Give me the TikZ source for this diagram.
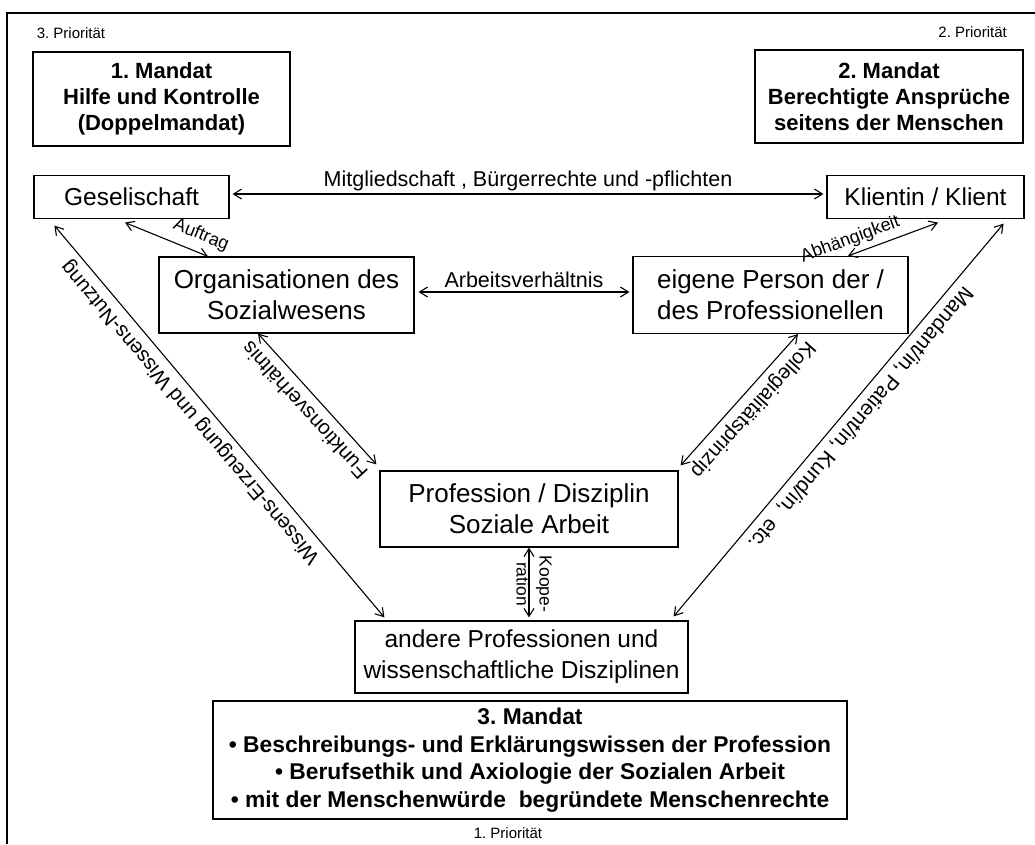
\documentclass[tikz,border=0pt]{standalone}
\usepackage{fontspec}
\setmainfont{Liberation Sans}
\usetikzlibrary{arrows.meta,calc}
\frenchspacing

\begin{document}
\begin{tikzpicture}[x=1pt, y=-1pt,
  box/.style={draw, line width=1.2pt, inner sep=0pt, align=center},
  bigtext/.style={font=\fontsize{26}{31}\selectfont},
  midtext/.style={font=\fontsize{24.5}{31}\selectfont},
  mandat/.style={draw, line width=1.3pt, inner sep=0pt, align=center, font=\bfseries\fontsize{22}{26}\selectfont},
  lbl/.style={font=\fontsize{21.5}{26}\selectfont, inner sep=1pt},
  slbl/.style={font=\fontsize{20.5}{24}\selectfont, inner sep=1pt, sloped, allow upside down},
  tlbl/.style={font=\fontsize{18}{22}\selectfont, inner sep=1pt, sloped},
  koop/.style={font=\fontsize{17.5}{23}\selectfont, inner sep=0pt, align=center},
  prio/.style={font=\fontsize{15}{18}\selectfont, inner sep=0pt},
  rel/.style={<->, >={Straight Barb[length=8pt,width=10pt]}, line width=1.1pt},
]
\useasboundingbox (0,0) rectangle (1035,844);
% frame
\draw[line width=2pt] (1035,13) -- (7,13) -- (7,844);

% priorities
\node[prio] (prioc) at (71,33) {3. Priorität};
\node[prio, anchor=east] (priob) at (1007,32) {2. Priorität};
\node[prio] (prioa) at (508,833) {1. Priorität};

% mandates
\node[mandat, minimum width=257pt, minimum height=94pt] (mandatone) at (161.5,99) {1. Mandat\\Hilfe und Kontrolle\\(Doppelmandat)};
\node[mandat, minimum width=268pt, minimum height=93pt] (mandattwo) at (889,96.5) {2. Mandat\\Berechtigte Ansprüche\\seitens der Menschen};
\node[mandat, minimum width=634pt, minimum height=118pt, font=\bfseries\fontsize{22.8}{27.7}\selectfont] (mandatthree) at (530,760)
  {3. Mandat\\• Beschreibungs- und Erklärungswissen der Profession\\• Berufsethik und Axiologie der Sozialen Arbeit\\• mit der Menschenwürde~ begründete Menschenrechte};

% actors
\node[box, midtext, minimum width=195pt, minimum height=43pt] (gesell) at (131.5,197) {Geselischaft};
\node[box, midtext, minimum width=197pt, minimum height=43pt] (klient) at (925.5,197) {Klientin / Klient};
\node[box, bigtext, minimum width=255pt, minimum height=76pt] (organ) at (286.5,295) {Organisationen des\\Sozialwesens};
\node[box, bigtext, minimum width=275pt, minimum height=77pt] (person) at (770.5,295) {eigene Person der /\\des Professionellen};
\node[box, bigtext, minimum width=298pt, minimum height=76pt] (profession) at (529,509) {Profession / Disziplin\\Soziale Arbeit};
\node[box, midtext, minimum width=333pt, minimum height=72pt] (andere) at (521.5,657) {andere Professionen und\\wissenschaftliche Disziplinen};

% relations
\draw[rel, shorten <=3pt, shorten >=3pt] ([yshift=3pt]gesell.east) -- node[lbl, above=1.5pt] (mitglied) {Mitgliedschaft , Bürgerrechte und -pflichten} ([yshift=3pt]klient.west);
\draw[rel] ([xshift=-6.5pt,yshift=-3.5pt]gesell.south) -- node[tlbl, pos=0.84, above=7pt] (auftrag) {Auftrag} ([xshift=-78.5pt]organ.north);
\draw[rel] ([xshift=77.5pt]person.north) -- node[tlbl, pos=0.08, above=4.5pt] (abh) {Abhängigkeit} ([xshift=12.5pt,yshift=-3.5pt]klient.south);
\draw[rel] ([xshift=4pt,yshift=3pt]organ.east) -- node[lbl, above=3pt] (arbeit) {Arbeitsverhältnis} ([xshift=-3pt,yshift=3pt]organ.east -| person.west);
\draw[rel] ([xshift=-3pt,yshift=6pt]profession.north west) -- node[slbl, pos=0.5, above=8pt] (funktion) {Funktionsverhältnis} ([xshift=-28.5pt]organ.south);
\draw[rel] ([xshift=30pt,yshift=3pt]andere.north west) -- node[slbl, pos=0.55, above=5pt] (wissen) {Wissens-Erzeugung und Wissens-Nutzung} ([xshift=21pt,yshift=-6.5pt]gesell.south west);
\draw[rel] ([xshift=27.5pt]person.south) -- node[slbl, pos=0.49, above=5pt] (kolleg) {Kollegialitätsprinzip} ([xshift=2pt,yshift=5pt]profession.north east);
\draw[rel] ([xshift=-21pt,yshift=-4.5pt]klient.south east) -- node[slbl, pos=0.47, above=5pt, font=\fontsize{21}{24}\selectfont] (mandant) {Mandant/in, Patient/in, Kund/in,~ etc.} ([xshift=-15pt,yshift=4pt]andere.north east);
\draw[rel, shorten >=3pt] (profession.south) -- node[koop, midway, xshift=5pt, rotate=-90] (koopera) {Koope-\\ration} (profession.south |- andere.north);
\end{tikzpicture}
\end{document}
